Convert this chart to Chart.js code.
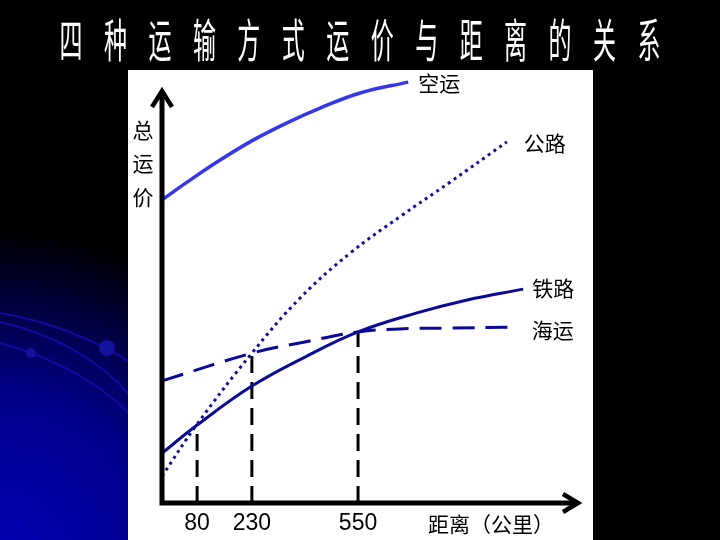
<!DOCTYPE html>
<html>
<head>
<meta charset="utf-8">
<script src="https://cdn.jsdelivr.net/npm/chart.js@4"></script>
<style>
  html, body { margin: 0; padding: 0; background: #000; }
  #wrap { width: 720px; height: 540px; }
</style>
</head>
<body>
<div id="wrap"><canvas id="chart" width="720" height="540"></canvas></div>
<script>
// schematic units: x 0..100 along the distance axis, y 0..100 along the cost axis
const titleText = '四种运输方式运价与距离的关系';
const yTitle = ['总', '运', '价'];
const xTitle = '距离（公里）';

const distanceLabels = ['80', '230', '550'];
const breakX = [8.4, 21.5, 46.9];
const breakTop = [18.2, 34.6, 39.5];

const airX = [0, 6.0, 13.9, 21.8, 29.9, 37.8, 47.4, 58.9];
const airY = [70.0, 74.1, 79.2, 83.8, 87.8, 91.2, 94.7, 97.2];

const roadX = [0, 8.4, 21.5, 33.0, 45.0, 56.9, 68.9, 82.5];
const roadY = [6.2, 18.2, 34.6, 47.3, 57.7, 66.1, 74.1, 83.4];

const railX = [0, 8.4, 21.5, 34.2, 46.9, 61.0, 73.0, 86.4];
const railY = [11.5, 18.0, 27.0, 33.7, 39.5, 43.9, 46.9, 49.4];

const seaX = [0, 21.5, 34.2, 46.9, 56.9, 68.9, 84.4];
const seaY = [28.2, 34.6, 37.2, 39.5, 40.2, 40.4, 40.6];

const pts = (xs, ys) => xs.map((x, i) => ({ x: x, y: ys[i] }));

const cjk = '"Noto Sans CJK SC", "Noto Sans", sans-serif';

// slide background, white panel, title
const backdrop = {
  id: 'backdrop',
  beforeDraw(chart) {
    const ctx = chart.ctx;
    ctx.save();
    ctx.fillStyle = '#000';
    ctx.fillRect(0, 0, 720, 540);
    const g = ctx.createRadialGradient(0, 560, 0, 0, 560, 330);
    g.addColorStop(0, '#0000b4');
    g.addColorStop(0.5, '#00008c');
    g.addColorStop(1, '#000000');
    ctx.fillStyle = g;
    ctx.fillRect(0, 220, 140, 320);

    // decorative arcs
    ctx.strokeStyle = '#0c0ca0';
    ctx.lineWidth = 2;
    ctx.beginPath(); ctx.moveTo(0, 313); ctx.quadraticCurveTo(70, 325, 130, 362); ctx.stroke();
    ctx.beginPath(); ctx.moveTo(0, 322); ctx.quadraticCurveTo(80, 340, 130, 395); ctx.stroke();
    ctx.beginPath(); ctx.moveTo(0, 343); ctx.quadraticCurveTo(80, 365, 130, 414); ctx.stroke();
    ctx.fillStyle = '#12129e';
    ctx.beginPath(); ctx.arc(107, 348, 8, 0, Math.PI * 2); ctx.fill();
    ctx.beginPath(); ctx.arc(31, 353, 5, 0, Math.PI * 2); ctx.fill();

    ctx.fillStyle = '#fff';
    ctx.fillRect(128, 70, 465, 470);

    // title, condensed and widely spaced
    ctx.fillStyle = '#fff';
    ctx.font = '46px ' + cjk;
    ctx.textAlign = 'center';
    ctx.textBaseline = 'middle';
    const chars = Array.from(titleText);
    const step = (649 - 71) / (chars.length - 1);
    chars.forEach((c, i) => {
      ctx.save();
      ctx.translate(71 + i * step, 40);
      ctx.scale(0.5, 1);
      ctx.fillText(c, 0, 0);
      ctx.restore();
    });
    ctx.restore();
  }
};

// axes with arrow heads, tick and series labels
const annotate = {
  id: 'annotate',
  afterDatasetsDraw(chart) {
    const ctx = chart.ctx;
    const xs = chart.scales.x, ys = chart.scales.y;
    const x0 = xs.getPixelForValue(0), y0 = ys.getPixelForValue(0);
    const xEnd = xs.getPixelForValue(100), yEnd = ys.getPixelForValue(95.6);
    ctx.save();
    ctx.strokeStyle = '#000';
    ctx.lineWidth = 5;
    ctx.lineCap = 'butt';
    ctx.beginPath();
    ctx.moveTo(x0, yEnd + 2);
    ctx.lineTo(x0, y0 + 2.5);
    ctx.moveTo(x0 - 2.5, y0);
    ctx.lineTo(xEnd - 2, y0);
    ctx.stroke();
    ctx.lineWidth = 4.5;
    ctx.lineJoin = 'miter';
    ctx.beginPath();
    ctx.moveTo(x0 - 10, yEnd + 18);
    ctx.lineTo(x0, yEnd + 2);
    ctx.lineTo(x0 + 10, yEnd + 18);
    ctx.moveTo(xEnd - 17, y0 - 9);
    ctx.lineTo(xEnd - 2, y0);
    ctx.lineTo(xEnd - 17, y0 + 9);
    ctx.stroke();

    ctx.fillStyle = '#000';
    ctx.textBaseline = 'middle';
    ctx.textAlign = 'center';
    ctx.font = '23px "Liberation Sans", Arial, sans-serif';
    distanceLabels.forEach((t, i) => ctx.fillText(t, xs.getPixelForValue(breakX[i]), y0 + 21));

    ctx.font = '21px ' + cjk;
    yTitle.forEach((c, i) => ctx.fillText(c, x0 - 19, 130 + i * 33.5));
    ctx.textAlign = 'left';
    ctx.fillText(xTitle, 428, y0 + 21);

    chart.data.datasets.forEach((ds) => {
      if (!ds.tag) return;
      const last = ds.data[ds.data.length - 1];
      const px = xs.getPixelForValue(last.x), py = ys.getPixelForValue(last.y);
      ctx.fillText(ds.tag, px + ds.tagGap, py + (ds.tagDy || 0));
    });
    ctx.restore();
  }
};

const guideSets = breakX.map((x, i) => ({
  data: [{ x: x, y: 0 }, { x: x, y: breakTop[i] }],
  borderColor: '#000',
  borderWidth: 3,
  borderDash: [17, 9],
  pointRadius: 0,
  showLine: true,
  tension: 0,
  order: 5
}));

new Chart(document.getElementById('chart'), {
  type: 'scatter',
  data: {
    datasets: [
      {
        tag: '空运', tagGap: 10, tagDy: 1,
        data: pts(airX, airY),
        borderColor: '#3636ea', borderWidth: 3.5,
        showLine: true, pointRadius: 0, tension: 0.4
      },
      {
        tag: '公路', tagGap: 17, tagDy: 1,
        data: pts(roadX, roadY),
        borderColor: '#0e0e9e', borderWidth: 3,
        borderDash: [3, 4],
        showLine: true, pointRadius: 0, tension: 0.4
      },
      {
        tag: '铁路', tagGap: 9, tagDy: -1,
        data: pts(railX, railY),
        borderColor: '#0a0a98', borderWidth: 3,
        showLine: true, pointRadius: 0, tension: 0.4
      },
      {
        tag: '海运', tagGap: 17, tagDy: 3,
        data: pts(seaX, seaY),
        borderColor: '#0a0a98', borderWidth: 3,
        borderDash: [22, 11],
        showLine: true, pointRadius: 0, tension: 0.4
      },
      ...guideSets
    ]
  },
  options: {
    responsive: false,
    animation: false,
    events: [],
    clip: false,
    layout: { padding: { left: 162, right: 140, top: 70, bottom: 37 } },
    scales: {
      x: { type: 'linear', min: 0, max: 100, display: false },
      y: { type: 'linear', min: 0, max: 100, display: false }
    },
    plugins: {
      legend: { display: false },
      tooltip: { enabled: false },
      title: { display: false }
    }
  },
  plugins: [backdrop, annotate]
});
</script>
</body>
</html>
